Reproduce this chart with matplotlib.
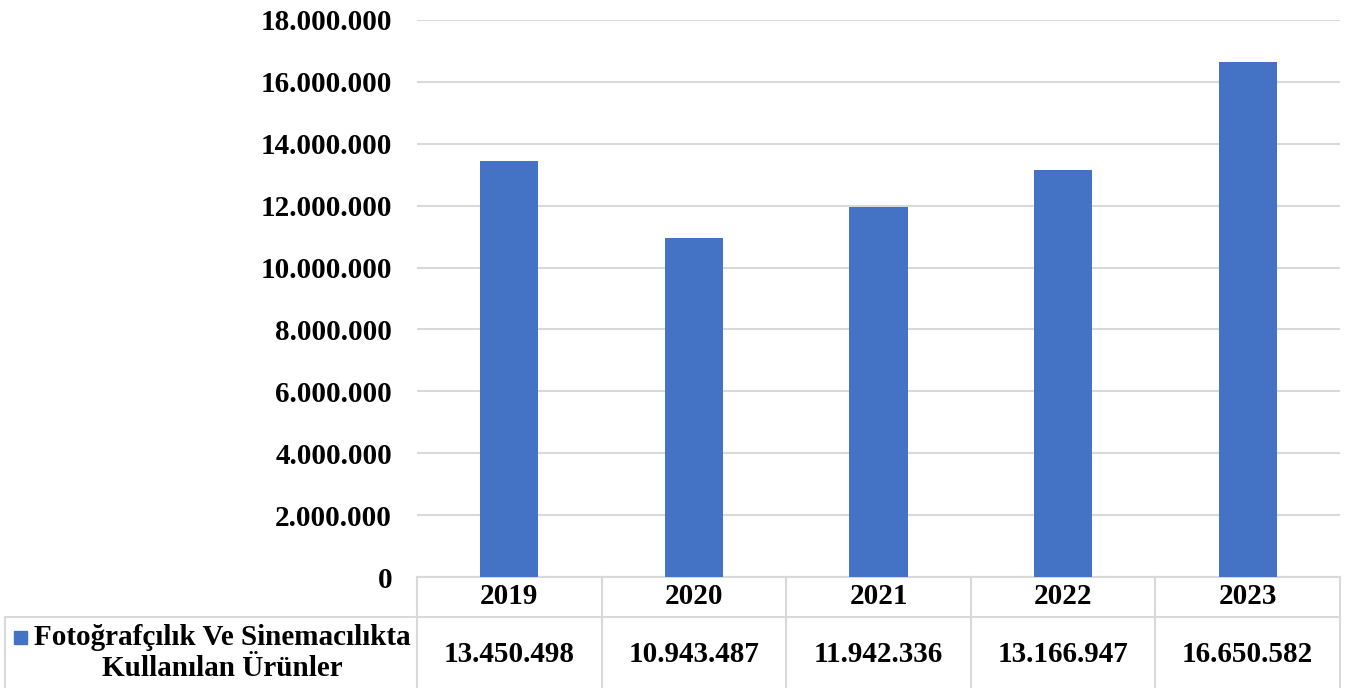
import matplotlib.pyplot as plt
import matplotlib.transforms as mtransforms
from matplotlib.ticker import FuncFormatter
import numpy as np

plt.rcParams['font.family'] = ['Liberation Serif', 'DejaVu Serif']
plt.rcParams['font.weight'] = 'bold'

years = ['2019', '2020', '2021', '2022', '2023']
values = [13450498, 10943487, 11942336, 13166947, 16650582]
series_name = 'Fotoğrafçılık Ve Sinemacılıkta\nKullanılan Ürünler'
bar_color = '#4472C4'
grid_color = '#D9D9D9'


def dotted(v, pos=None):
    return f'{int(v):,}'.replace(',', '.')


fig = plt.figure(figsize=(13.57, 6.88), dpi=100)
W, H = 1357, 688
ax = fig.add_axes([417 / W, 1 - 577 / H, 923 / W, 557 / H])

x = np.arange(len(years))
ax.bar(x, values, width=0.315, color=bar_color, zorder=3)

ax.set_xlim(-0.5, len(years) - 0.5)
ax.set_ylim(0, 18000000)
ax.set_yticks(np.arange(0, 18000001, 2000000))
ax.yaxis.set_major_formatter(FuncFormatter(dotted))
ax.tick_params(axis='y', length=0, pad=18, labelsize=21)
ax.set_xticks([])
ax.grid(axis='y', color=grid_color, linewidth=1.5, zorder=0)
for s in ax.spines.values():
    s.set_visible(False)

# data table below the axes (x in data coords, y in axes coords)
trans = mtransforms.blended_transform_factory(ax.transData, ax.transAxes)
row1 = -40 / 557      # bottom of the header row
row2 = -120 / 557     # below figure bottom
lw = 1.5
ax.plot([-0.5, 4.5], [0, 0], transform=trans, color=grid_color, lw=lw, clip_on=False)
ax.plot([-0.5, 4.5], [row1, row1], transform=trans, color=grid_color, lw=lw, clip_on=False)
for b in np.arange(-0.5, len(years)):
    ax.plot([b, b], [0, row2], transform=trans, color=grid_color, lw=lw, clip_on=False)
for i, (yr, v) in enumerate(zip(years, values)):
    ax.text(i, row1 / 2, yr, transform=trans, ha='center', va='center', fontsize=21)
    ax.text(i, -78 / 557, dotted(v), transform=trans, ha='center', va='center', fontsize=21)

# legend cell on the left
ax_tr = ax.transAxes
left_ax = (5 - 417) / 923
ax.plot([left_ax, 0], [row1, row1], transform=ax_tr, color=grid_color, lw=lw, clip_on=False)
ax.plot([left_ax, left_ax], [row1, row2], transform=ax_tr, color=grid_color, lw=lw, clip_on=False)
fig.text(222 / W, 1 - 653 / H, series_name, ha='center', va='center', fontsize=21,
         linespacing=1.2)
fig.patches.append(plt.Rectangle((14 / W, 1 - 644 / H), 13 / W, 13 / H,
                                 transform=fig.transFigure, color=bar_color))

fig.savefig('out.png', dpi=100)
